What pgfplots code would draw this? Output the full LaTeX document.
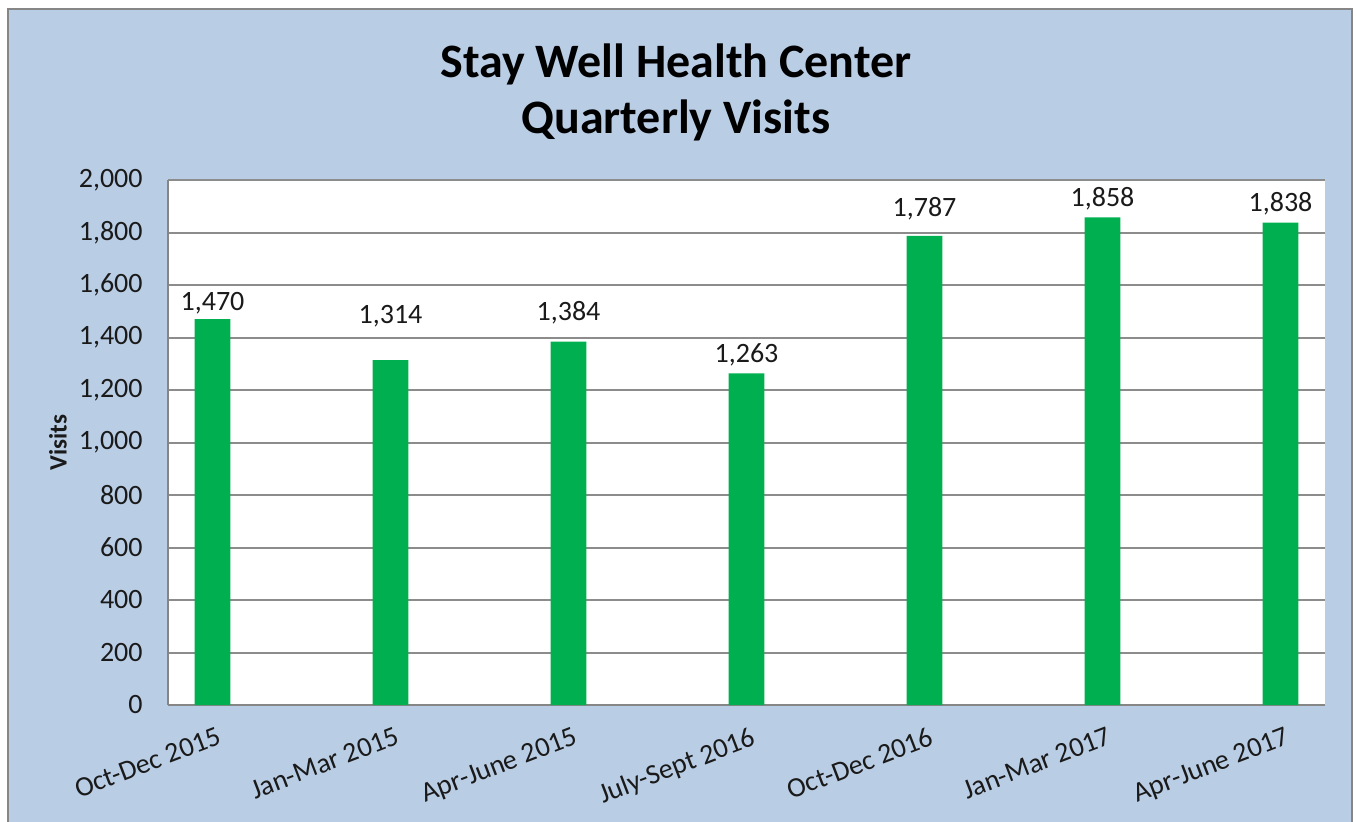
\documentclass[border=0pt]{standalone}
\usepackage{pgfplots}
\pgfplotsset{compat=1.18}
\usepackage{fontspec}
\setmainfont{Carlito}
\definecolor{bgblue}{HTML}{B9CDE5}
\definecolor{bargreen}{HTML}{00B050}
\definecolor{framegray}{HTML}{868686}
\definecolor{gridgray}{HTML}{8C8C8C}
\definecolor{txt}{HTML}{1A1A1A}
\begin{document}
\begin{tikzpicture}
\useasboundingbox (0,0) rectangle (678.5pt,410.5pt);
\fill[white] (0,0) rectangle (678.5pt,410.5pt);
\filldraw[fill=bgblue, draw=framegray, line width=1pt] (4pt,-5pt) rectangle (676pt,406pt);
\begin{axis}[
  at={(84pt,58pt)}, anchor=south west,
  scale only axis, width=578.5pt, height=262.5pt,
  axis background/.style={fill=white},
  ybar, bar width=0.2,
  xmin=-0.25, xmax=6.25,
  ymin=0, ymax=2000,
  ytick={0,200,...,2000},
  xtick=data,
  xticklabels={Oct-Dec 2015,Jan-Mar 2015,Apr-June 2015,July-Sept 2016,Oct-Dec 2016,Jan-Mar 2017,Apr-June 2017},
  major tick length=0pt,
  axis x line*=bottom, axis y line*=left,
  x axis line style={draw=framegray, line width=1.4pt, -},
  y axis line style={draw=framegray, line width=1pt, -},
  ymajorgrids, grid style={draw=gridgray, line width=1pt},
  /pgf/number format/assume math mode=true,
  /pgf/number format/1000 sep={,},
  yticklabel style={font=\fontsize{14}{16.8}\selectfont, text=txt, inner sep=0pt, anchor=east, xshift=-12.5pt},
  xticklabel style={font=\fontsize{14}{16.8}\selectfont, text=txt, inner sep=0pt, xshift=2pt, yshift=-10.5pt, rotate=21, anchor=north east},
  ylabel={Visits},
  ylabel style={font=\bfseries\fontsize{12.5}{15}\selectfont, text=txt, at={(axis description cs:-0.0951,0.5)}, anchor=center, rotate=0},
  title={Stay Well Health Center\\Quarterly Visits},
  title style={font=\bfseries\fontsize{24}{28}\selectfont, text=black, align=center, at={(axis description cs:0.439,1.144)}, anchor=center},
  visualization depends on={\thisrow{off}\as\myoff},
  nodes near coords={\pgfmathprintnumber[1000 sep={,}, assume math mode=true]{\pgfplotspointmeta}},
  every node near coord/.append style={font=\fontsize{14}{16.8}\selectfont, text=txt, inner sep=0pt, anchor=base, yshift=\myoff pt},
]
\addplot[fill=bargreen, draw=none] table[x=x, y=y, meta=y] {
x y off
0 1470 4.5
1 1314 18.5
2 1384 10.5
3 1263 5.5
4 1787 9.5
5 1858 5.5
6 1838 5.5
};
\end{axis}
\end{tikzpicture}
\end{document}
